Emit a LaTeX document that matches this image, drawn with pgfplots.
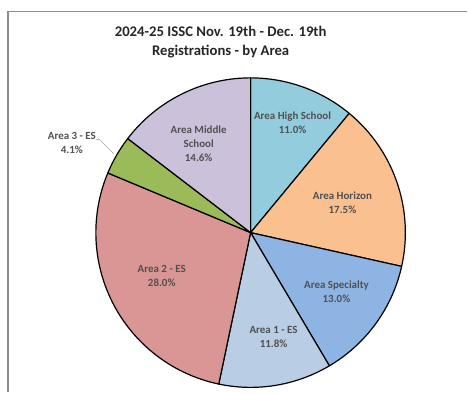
\documentclass[border=0pt]{standalone}
\usepackage{pgfplots}
\pgfplotsset{compat=1.18}
\usepackage{pgfplotstable}
\usepackage{fontspec}
\setmainfont{Carlito}

\definecolor{cHS}{HTML}{93CDDD}
\definecolor{cHZ}{HTML}{FAC090}
\definecolor{cSP}{HTML}{8EB4E3}
\definecolor{cA1}{HTML}{B9CDE5}
\definecolor{cA2}{HTML}{D99694}
\definecolor{cA3}{HTML}{9BBB59}
\definecolor{cMS}{HTML}{CCC1DA}
\definecolor{lbl}{HTML}{505050}
\definecolor{frame}{HTML}{8C8C8C}

\tikzset{
  wedge/.style={draw=black, line width=1.2bp, line join=round},
  lab/.style={text=lbl, font=\fontsize{11}{14}\selectfont\bfseries, align=center},
}

\pgfplotstableread{
area value
HS 11.0
Horizon 17.5
Specialty 13.0
A1 11.8
A2 28.0
A3 4.1
MS 14.6
}\piedata

\pgfplotstablegetelem{0}{value}\of\piedata \pgfmathsetmacro\eA{90-3.6*\pgfplotsretval}
\pgfplotstablegetelem{1}{value}\of\piedata \pgfmathsetmacro\eB{\eA-3.6*\pgfplotsretval}
\pgfplotstablegetelem{2}{value}\of\piedata \pgfmathsetmacro\eC{\eB-3.6*\pgfplotsretval}
\pgfplotstablegetelem{3}{value}\of\piedata \pgfmathsetmacro\eD{\eC-3.6*\pgfplotsretval}
\pgfplotstablegetelem{4}{value}\of\piedata \pgfmathsetmacro\eE{\eD-3.6*\pgfplotsretval}
\pgfplotstablegetelem{5}{value}\of\piedata \pgfmathsetmacro\eF{\eE-3.6*\pgfplotsretval}
\pgfplotstablegetelem{6}{value}\of\piedata \pgfmathsetmacro\eG{\eF-3.6*\pgfplotsretval}

\begin{document}
\begin{tikzpicture}
\begin{axis}[
  scale only axis, x=1bp, y=1bp,
  xmin=-251, xmax=217, ymin=-160, ymax=233,
  hide axis, clip=false,
]
\path (axis cs:-251,-160) rectangle (axis cs:217,233);
\addplot[wedge, fill=cHS, samples=60, domain=\eA:90]  ({155*cos(x)},{155*sin(x)}) -- (axis cs:0,0) -- cycle;
\addplot[wedge, fill=cHZ, samples=60, domain=\eB:\eA] ({155*cos(x)},{155*sin(x)}) -- (axis cs:0,0) -- cycle;
\addplot[wedge, fill=cSP, samples=60, domain=\eC:\eB] ({155*cos(x)},{155*sin(x)}) -- (axis cs:0,0) -- cycle;
\addplot[wedge, fill=cA1, samples=60, domain=\eD:\eC] ({155*cos(x)},{155*sin(x)}) -- (axis cs:0,0) -- cycle;
\addplot[wedge, fill=cA2, samples=60, domain=\eE:\eD] ({155*cos(x)},{155*sin(x)}) -- (axis cs:0,0) -- cycle;
\addplot[wedge, fill=cA3, samples=60, domain=\eF:\eE] ({155*cos(x)},{155*sin(x)}) -- (axis cs:0,0) -- cycle;
\addplot[wedge, fill=cMS, samples=60, domain=\eG:\eF] ({155*cos(x)},{155*sin(x)}) -- (axis cs:0,0) -- cycle;

\node[lab] at (axis cs:42,110) {Area High School\\11.0\%};
\node[lab] at (axis cs:92,30) {Area Horizon\\17.5\%};
\node[lab] at (axis cs:86,-59) {Area Specialty\\13.0\%};
\node[lab] at (axis cs:23,-104.5) {Area 1 - ES\\11.8\%};
\node[lab] at (axis cs:-89,-43) {Area 2 - ES\\28.0\%};
\node[lab] at (axis cs:-52,89) {Area Middle\\School\\14.6\%};
\node[lab] at (axis cs:-179,89.5) {Area 3 - ES\\4.1\%};
\draw[gray!70, line width=0.6bp] (axis cs:-155,93) -- (axis cs:-151,93) -- (axis cs:-137,79);

\node[font=\fontsize{14.8}{19}\selectfont\bfseries, text=black!85, align=center] at (axis cs:-30,190.5)
  {2024-25 ISSC Nov. 19th - Dec. 19th\\Registrations - by Area};

\draw[frame, line width=1.5bp] (axis cs:-243,-160) -- (axis cs:-243,221.5) -- (axis cs:217,221.5);
\end{axis}
\end{tikzpicture}
\end{document}
